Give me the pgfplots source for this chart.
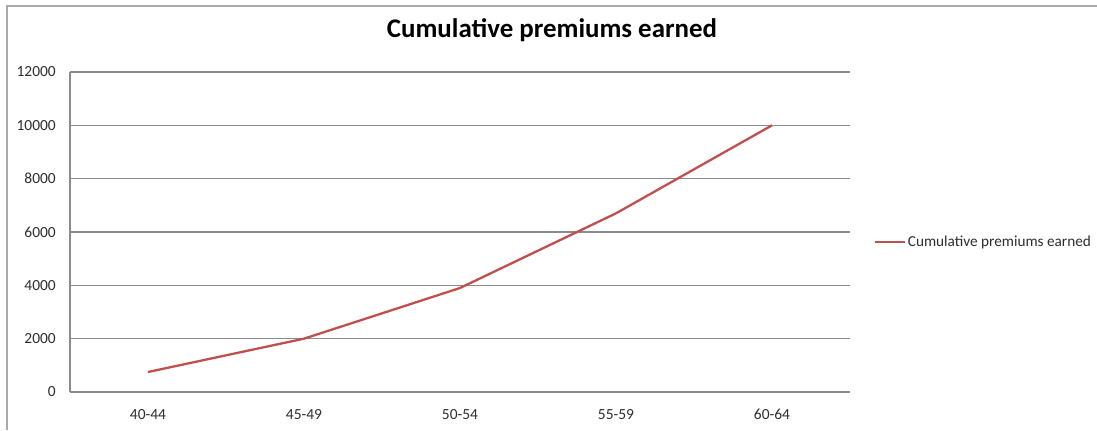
\documentclass[border=0pt]{standalone}
\usepackage{pgfplots}
\pgfplotsset{compat=1.18}
\usepackage{fontspec}
\setmainfont{Carlito}
\definecolor{seriesred}{RGB}{192,80,77}
\definecolor{gridgray}{RGB}{140,140,140}
\definecolor{framegray}{RGB}{170,170,170}
\definecolor{labelgray}{RGB}{45,45,45}
\begin{document}
\begin{tikzpicture}[x=1bp,y=1bp]
\path[use as bounding box] (0,0) rectangle (1097,430);
% outer chart frame (left and top edges)
\draw[framegray, line width=1.8bp] (7,0) -- (7,424) -- (1097,424);
% chart title
\node[anchor=base, font=\fontsize{27}{32}\selectfont\bfseries, text=black] at (552,392) {Cumulative premiums earned};
\begin{axis}[
  at={(70bp,38bp)}, anchor=south west,
  scale only axis, width=780bp, height=320bp,
  xmin=-0.5, xmax=4.5, ymin=0, ymax=12000,
  xtick={0,1,2,3,4},
  xticklabels={40-44,45-49,50-54,55-59,60-64},
  ytick={0,2000,4000,6000,8000,10000,12000},
  scaled y ticks=false,
  /pgf/number format/assume math mode=true,
  /pgf/number format/set thousands separator={},
  major tick length=0pt,
  ymajorgrids,
  grid style={gridgray, line width=1.5bp},
  axis line style={gridgray, line width=1.5bp},
  axis x line*=bottom, axis y line*=left,
  x axis line style={-}, y axis line style={-},
  tick label style={font=\fontsize{15.5}{18}\selectfont, text=labelgray, inner sep=0pt},
  yticklabel style={anchor=east, xshift=-14bp},
  xticklabel style={anchor=north, yshift=-17bp},
  legend style={at={(1.03,0.469)}, anchor=west, draw=none, fill=none,
    font=\fontsize{15.3}{18}\selectfont, text=labelgray, inner sep=0pt,
    legend cell align=left},
  legend image code/.code={\draw[#1] (0bp,0bp) -- (30bp,0bp);},
]
\addplot[seriesred, line width=2.3bp, mark=none] coordinates {
  (0,750) (1,2000) (2,3900) (3,6700) (4,10000)
};
\addlegendentry{Cumulative premiums earned}
\end{axis}
\end{tikzpicture}
\end{document}
